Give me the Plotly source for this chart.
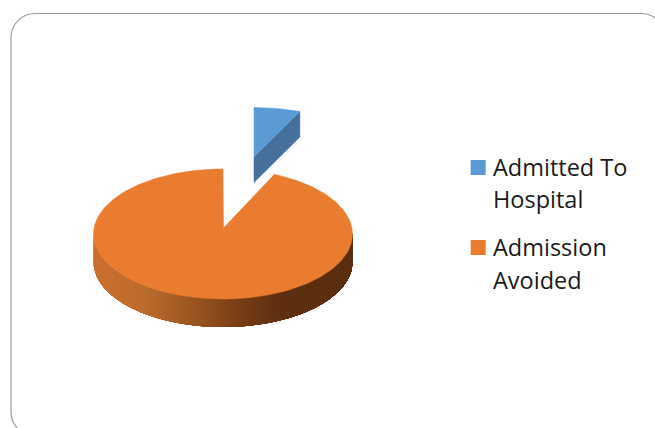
import numpy as np
import plotly.graph_objects as go

# Data
categories = ["Admitted To Hospital", "Admission Avoided"]
legend_lines = [["Admitted To", "Hospital"], ["Admission", "Avoided"]]
values = [6.5, 93.5]
top_colors = ["#5b9bd5", "#ea7c30"]
blue_side_color = "#44709b"
side_stops_pos = [0.0, 0.2, 0.4, 0.6, 0.72, 1.0]
side_stops_rgb = [(203, 112, 48), (187, 108, 45), (150, 83, 31), (112, 57, 20), (94, 47, 16), (90, 46, 16)]

W, H = 655, 428
sweep = [v / sum(values) * 2 * np.pi for v in values]


def arc(cx, cy, rx, ry, t0, t1, n=120):
    t = np.linspace(t0, t1, n)
    return cx + rx * np.sin(t), cy - ry * np.cos(t)


fig = go.Figure()

# Orange pie: geometry in pixel-like axis units
ocx, ocy, orx, ory, depth = 223.0, 234.0, 129.5, 65.0, 28.0
apex_o = (223.5, 228.0)

# Front rim with gradient: painted from the left, each band reaching the far right end,
# so no seams appear between neighbouring bands
edges = np.linspace(3 * np.pi / 2, np.pi / 2, 121)
for a in edges[:-1]:
    xs, ys = arc(ocx, ocy, orx, ory, a, np.pi / 2, 160)
    frac = (xs[0] - (ocx - orx)) / (2 * orx)
    col = [np.interp(frac, side_stops_pos, [c[i] for c in side_stops_rgb]) for i in range(3)]
    css = "rgb(%d,%d,%d)" % tuple(col)
    fig.add_trace(go.Scatter(x=np.r_[xs, xs[::-1]], y=np.r_[ys, ys[::-1] + depth], mode="lines",
                             fill="toself", fillcolor=css, line=dict(width=0),
                             hoverinfo="skip", showlegend=False))

# Orange top
xs, ys = arc(ocx, ocy, orx, ory, sweep[0], 2 * np.pi, 240)
fig.add_trace(go.Scatter(x=np.r_[apex_o[0], xs, apex_o[0]], y=np.r_[apex_o[1], ys, apex_o[1]],
                         mode="lines", fill="toself", fillcolor=top_colors[1],
                         line=dict(color=top_colors[1], width=0.5), name=categories[1],
                         hoverinfo="name", showlegend=False))

# Exploded blue slice
bx, by, brx, bry, bdepth = 254.0, 157.0, 115.5, 49.5, 25.5
xb, yb = arc(bx, by, brx, bry, 0, sweep[0], 40)
# cut face
fig.add_trace(go.Scatter(x=[bx, xb[-1], xb[-1], bx, bx],
                         y=[by, yb[-1], yb[-1] + bdepth, by + bdepth, by],
                         mode="lines", fill="toself", fillcolor=blue_side_color,
                         line=dict(color=blue_side_color, width=0.5), hoverinfo="skip", showlegend=False))
fig.add_trace(go.Scatter(x=np.r_[bx, xb, bx], y=np.r_[by, yb, by],
                         mode="lines", fill="toself", fillcolor=top_colors[0],
                         line=dict(color=top_colors[0], width=0.5), name=categories[0],
                         hoverinfo="name", showlegend=False))

# Legend swatches and labels
legend_x, legend_text_x = 478.2, 491
legend_y = [167.5, 247.5]
legend_text_y = [[166.5, 198.5], [246.5, 279.5]]
fig.add_trace(go.Scatter(x=[legend_x] * 2, y=legend_y, mode="markers",
                         marker=dict(symbol="square", size=15, color=top_colors, line=dict(width=0)),
                         hoverinfo="skip", showlegend=False))
for lines, tys in zip(legend_lines, legend_text_y):
    for lab, ty in zip(lines, tys):
        fig.add_annotation(x=legend_text_x, y=ty, text=lab, showarrow=False, xanchor="left", yanchor="middle",
                           align="left", font=dict(family="Open Sans, sans-serif", size=23.5, color="#1a1a1a"))

# Rounded frame, running off the right and bottom edges
l, t, r, b, rad = 11.0, 13.5, 665.0, 436.0, 24.0
k = rad * 0.45
frame = (f"M {l} {t+rad} C {l} {t+k} {l+k} {t} {l+rad} {t} L {r-rad} {t} C {r-k} {t} {r} {t+k} {r} {t+rad} "
         f"L {r} {b-rad} C {r} {b-k} {r-k} {b} {r-rad} {b} L {l+rad} {b} C {l+k} {b} {l} {b-k} {l} {b-rad} Z")
fig.add_shape(type="path", path=frame, xref="x", yref="y", line=dict(color="#9c9c9c", width=1.2),
              fillcolor="rgba(0,0,0,0)", layer="below")

fig.update_layout(width=W, height=H, margin=dict(l=0, r=0, t=0, b=0), paper_bgcolor="white",
                  plot_bgcolor="white", showlegend=False,
                  xaxis=dict(range=[0, W], visible=False, fixedrange=True),
                  yaxis=dict(range=[H, 0], visible=False, fixedrange=True))
fig.write_html("out.html", config=dict(displayModeBar=False),
               post_script="document.body.style.margin='0';document.body.style.overflow='hidden';")
